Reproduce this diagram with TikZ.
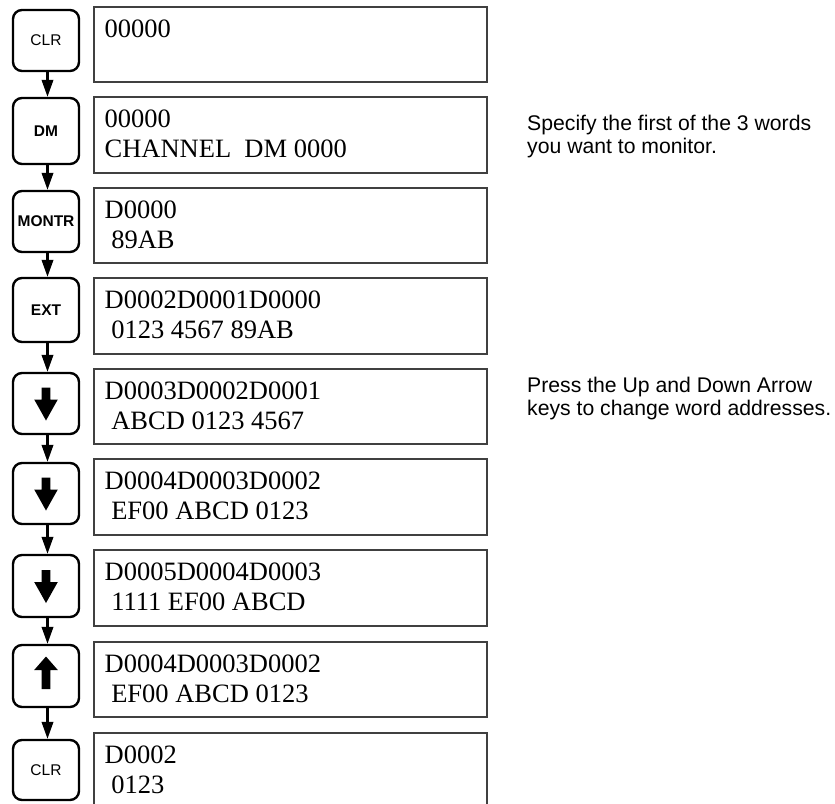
\documentclass[tikz,border=0pt]{standalone}
\usepackage{fontspec}
\setmainfont{Liberation Serif}
\newfontfamily\keyfont{Liberation Sans}
\usetikzlibrary{arrows.meta}
\tikzset{
  keybox/.style={draw=black, line width=2.4pt, rounded corners=9pt, minimum width=66pt, inner sep=0pt},
  dispbox/.style={draw=black!75, line width=1.1pt, minimum width=393pt, inner sep=0pt},
  disptext/.style={anchor=base west, inner sep=0pt, font=\fontsize{26.5}{30}\selectfont},
  keylbl/.style={font=\keyfont\fontsize{15.5}{18}\selectfont},
  keylblb/.style={font=\keyfont\bfseries\fontsize{15.5}{18}\selectfont},
  note/.style={anchor=base west, inner sep=0pt, align=left, font=\keyfont\fontsize{21.2}{23}\selectfont},
  conn/.style={line width=2.2pt, -{Triangle[length=17pt,width=11.5pt]}},
  glyph/.style={fill=black, draw=none}
}
\begin{document}
\begin{tikzpicture}[x=1pt,y=-1pt]
\useasboundingbox (0,0) rectangle (835,803);
\clip (0,0) rectangle (835,803);
% keys
\node[keybox, minimum height=61pt, keylbl] (k1) at (46,40.5) {CLR};
\node[keybox, minimum height=66pt, keylblb] (k2) at (46,131) {DM};
\node[keybox, minimum height=61pt, keylblb] (k3) at (46,221.5) {MONTR};
\node[keybox, minimum height=64pt, keylblb] (k4) at (46,310) {EXT};
\node[keybox, minimum height=61pt] (k5) at (46,403.5) {};
\node[keybox, minimum height=61pt] (k6) at (46,493.5) {};
\node[keybox, minimum height=62pt] (k7) at (46,586) {};
\node[keybox, minimum height=62pt] (k8) at (46,676) {};
\node[keybox, minimum height=60pt, keylbl] (k9) at (46,770) {CLR};
% arrow glyphs
\foreach \k in {k5,k6,k7}{
  \fill[glyph] ([xshift=-4.3pt,yshift=16pt]\k.center) -- ([xshift=4.3pt,yshift=16pt]\k.center)
    -- ([xshift=4.3pt,yshift=4pt]\k.center) -- ([xshift=11.8pt,yshift=4pt]\k.center)
    -- ([xshift=0pt,yshift=-17pt]\k.center) -- ([xshift=-11.8pt,yshift=4pt]\k.center)
    -- ([xshift=-4.3pt,yshift=4pt]\k.center) -- cycle;
}
\fill[glyph] ([xshift=-4.3pt,yshift=-13pt]k8.center) -- ([xshift=4.3pt,yshift=-13pt]k8.center)
    -- ([xshift=4.3pt,yshift=6pt]k8.center) -- ([xshift=11.8pt,yshift=6pt]k8.center)
    -- ([xshift=0pt,yshift=19.5pt]k8.center) -- ([xshift=-11.8pt,yshift=6pt]k8.center)
    -- ([xshift=-4.3pt,yshift=6pt]k8.center) -- cycle;
% connectors
\foreach \a/\b in {k1/k2,k2/k3,k3/k4,k4/k5,k5/k6,k6/k7,k7/k8,k8/k9}{
  \draw[conn] ([xshift=1.5pt]\a.south) -- ([xshift=1.5pt]\b.north);
}
% displays
\node[dispbox, minimum height=75pt] (d1) at (290.5,44.5) {};
\node[dispbox, minimum height=76pt] (d2) at (290.5,135) {};
\node[dispbox, minimum height=75pt] (d3) at (290.5,225.5) {};
\node[dispbox, minimum height=76pt] (d4) at (290.5,316) {};
\node[dispbox, minimum height=75pt] (d5) at (290.5,406.5) {};
\node[dispbox, minimum height=76pt] (d6) at (290.5,497) {};
\node[dispbox, minimum height=76pt] (d7) at (290.5,588) {};
\node[dispbox, minimum height=75pt] (d8) at (290.5,679.5) {};
\node[dispbox, minimum height=90pt] (d9) at (290.5,778) {};
% display texts
\newcommand{\disp}[3]{%
  \node[disptext] (#1a) at ([xshift=11pt,yshift=-31pt]#1.north west) {#2};
  \node[disptext] (#1b) at ([xshift=11pt,yshift=-61pt]#1.north west) {#3};}
\disp{d1}{00000}{}
\disp{d2}{00000}{CHANNEL\ \ DM 0000}
\disp{d3}{D0000}{\ 89AB}
\disp{d4}{D0002D0001D0000}{\ 0123 4567 89AB}
\disp{d5}{D0003D0002D0001}{\ ABCD 0123 4567}
\disp{d6}{D0004D0003D0002}{\ EF00 ABCD 0123}
\disp{d7}{D0005D0004D0003}{\ 1111 EF00 ABCD}
\disp{d8}{D0004D0003D0002}{\ EF00 ABCD 0123}
\disp{d9}{D0002}{\ 0123}
% notes (base anchor = baseline of last line)
\node[note] (n1) at (527,153) {Specify the first of the 3 words\\you want to monitor.};
\node[note] (n2) at (527,415) {Press the Up and Down Arrow\\keys to change word addresses.};
\end{tikzpicture}
\end{document}
